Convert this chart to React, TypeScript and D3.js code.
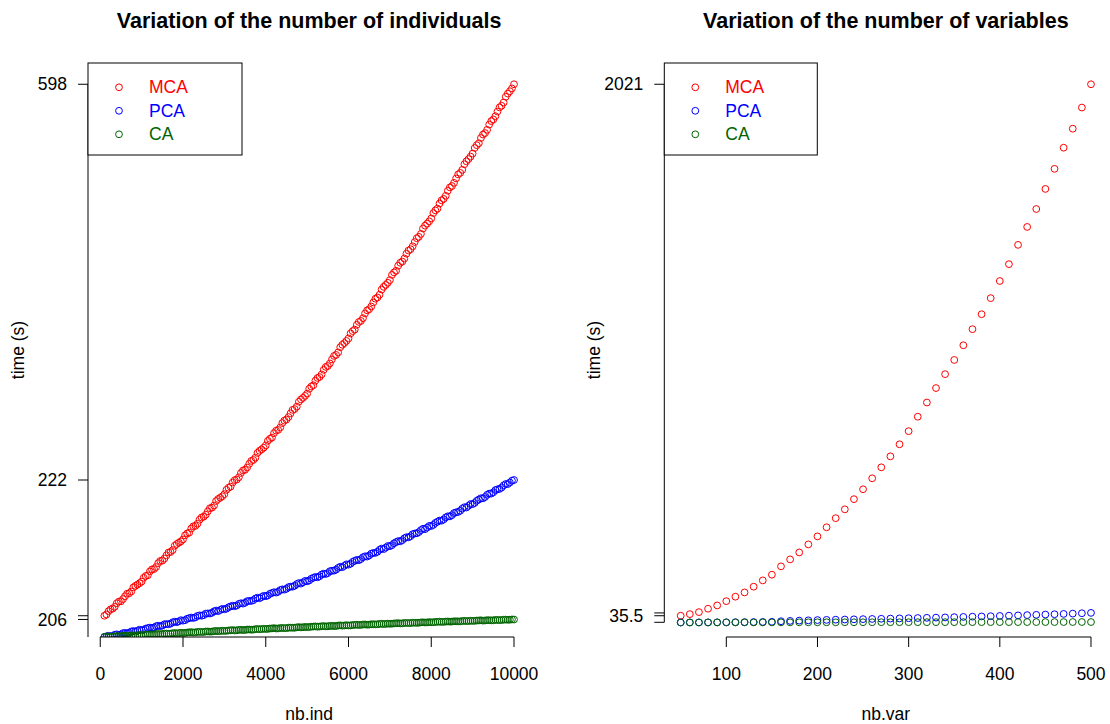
import React from 'react'
import * as d3 from 'd3'

// nb.ind panel (one run every 50 individuals)
const nbInd = d3.range(100, 10001, 50)
const mcaInd = [
  24, 25.3, 28.9, 30.9, 31.7, 33.6, 37.5, 39.3, 39.6, 42.0,
  45.1, 47.8, 48.3, 50.2, 54.6, 56.3, 57.6, 59.1, 60.9, 65.0,
  67.0, 67.7, 71.9, 74.1, 74.4, 76.6, 80.8, 83.2, 83.5, 85.7,
  89.2, 92.3, 92.8, 94.9, 99.6, 101.5, 102.9, 104.3, 106.4, 110.8,
  112.9, 113.7, 118.2, 120.6, 121.0, 123.4, 127.7, 130.2, 130.9, 133.1,
  136.8, 140.1, 140.7, 143.0, 147.9, 150.1, 151.5, 153.0, 155.3, 160.0,
  162.2, 163.4, 167.9, 170.5, 171.1, 173.5, 178.2, 180.9, 181.6, 184.1,
  188.0, 191.2, 192.2, 194.7, 199.8, 202.1, 203.6, 205.5, 207.9, 212.9,
  215.1, 216.4, 221.2, 223.9, 224.7, 227.3, 232.1, 234.8, 235.9, 238.6,
  242.6, 246.3, 247.2, 249.8, 255.1, 257.6, 259.3, 261.4, 263.9, 269.1,
  271.5, 272.9, 277.9, 280.8, 281.8, 284.6, 289.6, 292.7, 293.7, 296.5,
  300.8, 304.6, 305.7, 308.4, 314.0, 316.7, 318.5, 320.8, 323.5, 328.9,
  331.4, 333.0, 338.2, 341.3, 342.4, 345.4, 350.5, 353.8, 355.0, 358.0,
  362.4, 366.4, 367.7, 370.7, 376.3, 379.2, 381.3, 383.6, 386.5, 392.1,
  394.8, 396.6, 402.0, 405.2, 406.5, 409.8, 415.0, 418.4, 419.8, 423.0,
  427.6, 431.7, 433.2, 436.4, 442.2, 445.3, 447.5, 450.0, 453.1, 458.9,
  461.8, 463.7, 469.2, 472.6, 474.2, 477.5, 483.0, 486.6, 488.1, 491.5,
  496.3, 500.6, 502.3, 505.6, 511.6, 514.8, 517.2, 519.9, 523.2, 529.2,
  532.2, 534.3, 540.0, 543.7, 545.3, 548.8, 554.5, 558.2, 560.0, 563.5,
  568.5, 573.0, 574.8, 578.3, 584.5, 587.9, 590.5, 593.5, 598]
const pcaInd = [
  1.0, 1.8, 2.3, 1.7, 2.2, 3.5, 3.9, 3.3, 3.9, 5.2,
  5.4, 5.1, 5.7, 7.0, 7.5, 6.9, 7.8, 8.9, 8.3, 8.8,
  10.1, 10.7, 11.2, 10.7, 11.3, 12.7, 13.2, 12.7, 13.4, 14.8,
  15.0, 14.8, 15.5, 16.9, 17.6, 17.0, 18.0, 19.2, 18.7, 19.2,
  20.7, 21.4, 22.0, 21.6, 22.3, 23.8, 24.4, 24.0, 24.7, 26.3,
  26.5, 26.4, 27.2, 28.8, 29.6, 29.0, 30.2, 31.4, 31.0, 31.6,
  33.2, 34.1, 34.8, 34.3, 35.1, 36.8, 37.5, 37.1, 38.0, 39.7,
  40.0, 40.0, 40.8, 42.6, 43.5, 42.9, 44.2, 45.5, 45.1, 45.9,
  47.7, 48.6, 49.4, 49.0, 49.9, 51.7, 52.5, 52.2, 53.1, 54.9,
  55.4, 55.4, 56.4, 58.2, 59.3, 58.7, 60.1, 61.6, 61.2, 62.1,
  64.0, 65.0, 65.9, 65.5, 66.6, 68.5, 69.4, 69.1, 70.1, 72.1,
  72.6, 72.7, 73.8, 75.7, 76.9, 76.4, 77.9, 79.5, 79.2, 80.2,
  82.2, 83.3, 84.3, 84.0, 85.2, 87.2, 88.2, 87.9, 89.1, 91.1,
  91.8, 91.9, 93.1, 95.2, 96.5, 96.0, 97.6, 99.3, 99.1, 100.2,
  102.3, 103.5, 104.6, 104.4, 105.6, 107.7, 108.8, 108.7, 109.9, 112.1,
  112.8, 113.1, 114.3, 116.5, 117.9, 117.5, 119.2, 121.0, 120.9, 122.1,
  124.3, 125.5, 126.8, 126.7, 128.0, 130.2, 131.4, 131.3, 132.6, 134.9,
  135.7, 136.1, 137.4, 139.7, 141.2, 140.9, 142.7, 144.6, 144.6, 145.8,
  148.2, 149.5, 150.9, 150.8, 152.2, 154.6, 155.9, 155.9, 157.3, 159.7,
  160.5, 161.0, 162.4, 164.8, 166.3, 166.2, 167.9, 169.9, 170.6]
const caInd = [
  1.2, 1.3, 1.5, 1.2, 1.3, 1.8, 1.9, 1.7, 1.8, 2.3,
  2.4, 2.2, 2.3, 2.8, 2.9, 2.7, 3.0, 3.3, 3.0, 3.1,
  3.6, 3.8, 3.9, 3.6, 3.8, 4.2, 4.3, 4.1, 4.2, 4.7,
  4.7, 4.5, 4.6, 5.2, 5.3, 5.0, 5.3, 5.6, 5.4, 5.5,
  5.9, 6.1, 6.3, 5.9, 6.1, 6.5, 6.6, 6.4, 6.5, 7.0,
  7.0, 6.8, 6.9, 7.4, 7.6, 7.3, 7.5, 7.8, 7.6, 7.7,
  8.1, 8.3, 8.5, 8.1, 8.3, 8.7, 8.8, 8.6, 8.6, 9.1,
  9.1, 8.9, 9.0, 9.5, 9.7, 9.4, 9.6, 9.9, 9.7, 9.8,
  10.2, 10.3, 10.6, 10.2, 10.3, 10.7, 10.8, 10.6, 10.6, 11.1,
  11.1, 11.0, 11.0, 11.5, 11.7, 11.4, 11.6, 11.9, 11.7, 11.8,
  12.2, 12.3, 12.5, 12.2, 12.3, 12.7, 12.8, 12.5, 12.6, 13.0,
  13.0, 12.9, 12.9, 13.4, 13.6, 13.3, 13.5, 13.8, 13.5, 13.6,
  14.0, 14.1, 14.3, 14.0, 14.1, 14.5, 14.6, 14.3, 14.4, 14.8,
  14.8, 14.7, 14.7, 15.2, 15.3, 15.0, 15.2, 15.5, 15.3, 15.4,
  15.7, 15.8, 16.0, 15.7, 15.8, 16.2, 16.2, 16.0, 16.1, 16.5,
  16.4, 16.3, 16.4, 16.8, 16.9, 16.7, 16.8, 17.1, 16.9, 17.0,
  17.3, 17.4, 17.6, 17.3, 17.4, 17.7, 17.8, 17.6, 17.7, 18.0,
  18.0, 17.9, 17.9, 18.3, 18.5, 18.2, 18.3, 18.6, 18.4, 18.5,
  18.8, 18.9, 19.1, 18.7, 18.9, 19.2, 19.2, 19.0, 19.1, 19.5,
  19.4, 19.3, 19.4, 19.7, 19.8, 19.6, 19.7, 20.0, 19.9]

// nb.var panel
const nbVar = d3.range(50, 501, 10)
const mcaVar = [35.5, 41.5, 49, 61.7, 74, 90, 106.6, 122.6, 144, 167.5,
  188.8, 220, 246, 272, 302, 332, 366, 400, 433, 471,
  508, 549, 590, 631, 676, 725, 779, 832, 886, 938,
  991, 1046, 1106, 1162, 1222, 1286, 1349, 1421, 1488, 1555,
  1630, 1705, 1784, 1855, 1934, 2021]
const pcaVar = [10.4, 10.5, 10.6, 10.7, 10.9, 11.1, 11.3, 11.6, 11.9, 12.3,
  12.8, 15, 16.2, 17.3, 18.3, 19.3, 20, 20.7, 21.4, 22.1,
  22.8, 23.5, 24.2, 24.9, 25.6, 26.3, 27, 27.7, 28.5, 29.3,
  30.2, 31.1, 32, 32.9, 33.8, 34.8, 35.8, 36.8, 37.8, 38.9,
  40, 41.1, 42.3, 43.5, 44.8, 46.2]
const caVar = [10.2, 10.3, 10.3, 10.4, 10.4, 10.5, 10.5, 10.6, 10.6, 10.7,
  10.7, 10.8, 10.8, 10.9, 10.9, 11.0, 11.0, 11.0, 11.1, 11.1,
  11.2, 11.2, 11.3, 11.3, 11.3, 11.4, 11.4, 11.4, 11.5, 11.5,
  11.5, 11.6, 11.6, 11.6, 11.7, 11.7, 11.7, 11.8, 11.8, 11.8,
  11.9, 11.9, 11.9, 12.0, 12.0, 12.0]

const seriesNames = ['MCA', 'PCA', 'CA']
const seriesColors = ['#FF0000', '#0000FF', '#006400']

const indXTicks = [0, 2000, 4000, 6000, 8000, 10000]
const indYTicks = [0, 20, 24, 170.6, 598]
const indYLabels = ['', '206', '', '222', '598']
const varXTicks = [100, 200, 300, 400, 500]
const varYTicks = [11, 35.5, 46, 2021]
const varYLabels = ['', '35.5', '', '2021']

const FONT = '"Liberation Sans", Arial, Helvetica, sans-serif'
const TOP = 63
const BOTTOM = 637

// R style axis range: data extent padded by 4% each side
const rScale = (vals: number[], r0: number, r1: number) => {
  const [a, b] = d3.extent(vals) as [number, number]
  const pad = (b - a) * 0.04
  return d3.scaleLinear().domain([a - pad, b + pad]).range([r0, r1])
}

type PanelProps = {
  id: string
  left: number
  right: number
  title: string
  xLabel: string
  xs: number[]
  series: number[][]
  xTicks: number[]
  yTicks: number[]
  yLabels: string[]
  legendW: number
}

const Panel = ({id, left, right, title, xLabel, xs, series, xTicks, yTicks, yLabels, legendW}: PanelProps) => {
  const x = rScale(xs, left, right)
  const y = rScale(series[0], BOTTOM, TOP)
  const [d0] = y.domain()
  const shownY = yTicks.map((v, i) => ({v, label: yLabels[i]})).filter(t => t.v >= d0)
  const yLineBottom = Math.min(BOTTOM, y(d3.min(yTicks) as number))
  const yLineTop = y(d3.max(yTicks) as number)
  const cx = (left + right) / 2
  const cy = (TOP + BOTTOM) / 2

  return (
    <g>
      <defs>
        <clipPath id={`clip-${id}`}>
          <rect x={left} y={TOP} width={right - left} height={BOTTOM - TOP} />
        </clipPath>
      </defs>
      <text x={cx} y={28} textAnchor="middle" fontSize={21.5} fontWeight="bold">{title}</text>

      <g clipPath={`url(#clip-${id})`}>
        {series.map((s, si) => (
          <g key={si}>
            {s.map((v, i) => (
              <circle key={i} cx={x(xs[i])} cy={y(v)} r={3.4} fill="none"
                stroke={seriesColors[si]} strokeWidth={1} />
            ))}
          </g>
        ))}
      </g>

      {/* x axis */}
      <line x1={x(xTicks[0])} x2={x(xTicks[xTicks.length - 1])} y1={BOTTOM} y2={BOTTOM} stroke="#000" />
      {xTicks.map(t => (
        <g key={t}>
          <line x1={x(t)} x2={x(t)} y1={BOTTOM} y2={BOTTOM + 10} stroke="#000" />
          <text x={x(t)} y={680} textAnchor="middle" fontSize={17.5}>{t}</text>
        </g>
      ))}
      <text x={cx} y={720} textAnchor="middle" fontSize={17.5}>{xLabel}</text>

      {/* y axis */}
      <line x1={left} x2={left} y1={yLineBottom} y2={yLineTop} stroke="#000" />
      {shownY.map((t, i) => (
        <g key={i}>
          <line x1={left - 10} x2={left} y1={y(t.v)} y2={y(t.v)} stroke="#000" />
          {t.label && (
            <text x={left - 21} y={y(t.v)} dy="0.35em" textAnchor="end" fontSize={17.5}>{t.label}</text>
          )}
        </g>
      ))}
      <text transform={`translate(${left - 64},${cy}) rotate(-90)`} textAnchor="middle" fontSize={17.5}>time (s)</text>

      {/* legend */}
      <rect x={left} y={TOP} width={legendW} height={92} fill="#fff" stroke="#000" />
      {seriesNames.map((n, i) => (
        <g key={n}>
          <circle cx={left + 31} cy={87.3 + i * 23.5} r={3.4} fill="none" stroke={seriesColors[i]} />
          <text x={left + 61} y={87.3 + i * 23.5} dy="0.35em" fontSize={17.5} fill={seriesColors[i]}>{n}</text>
        </g>
      ))}
    </g>
  )
}

const App = () => {
  return (
    <svg width={1110} height={724} fontFamily={FONT}
      style={{position: 'absolute', left: 0, top: 0, background: '#fff'}}>
      <Panel id="ind" left={88} right={530.4} title="Variation of the number of individuals"
        xLabel="nb.ind" xs={nbInd} series={[mcaInd, pcaInd, caInd]}
        xTicks={indXTicks} yTicks={indYTicks} yLabels={indYLabels} legendW={154} />
      <Panel id="var" left={664.3} right={1107.4} title="Variation of the number of variables"
        xLabel="nb.var" xs={nbVar} series={[mcaVar, pcaVar, caVar]}
        xTicks={varXTicks} yTicks={varYTicks} yLabels={varYLabels} legendW={153} />
    </svg>
  )
}

export default App
